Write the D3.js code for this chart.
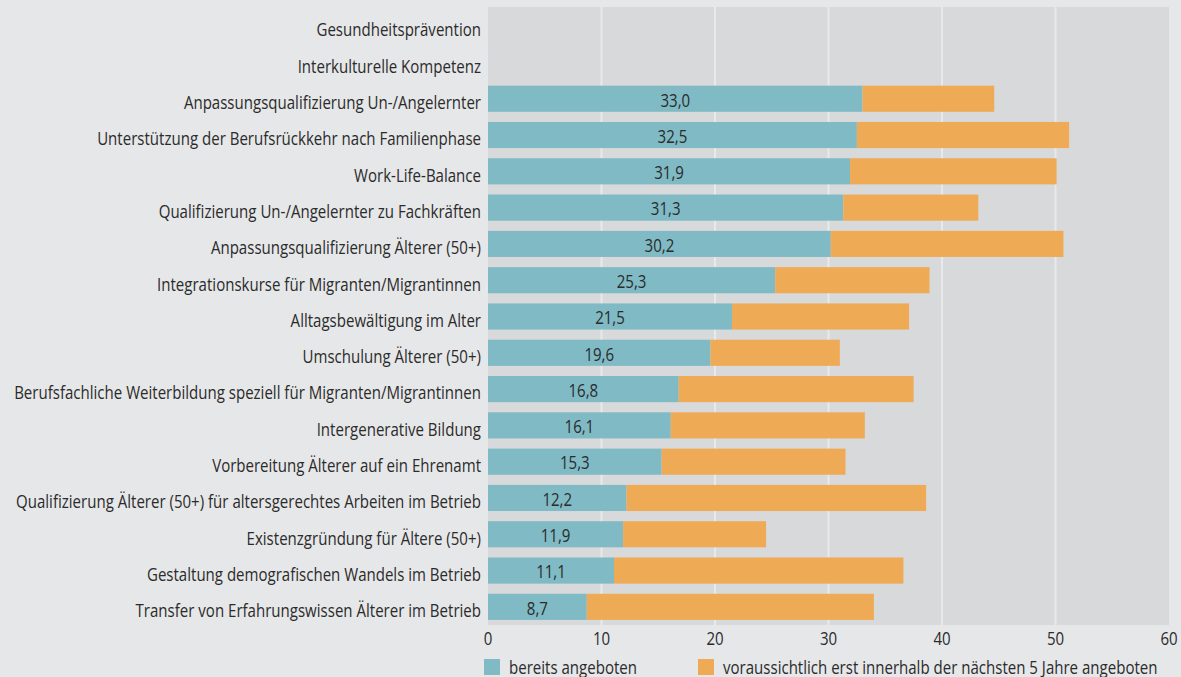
<!DOCTYPE html>
<html>
<head>
<meta charset="utf-8">
<script src="https://cdn.jsdelivr.net/npm/d3@7"></script>
<style>
  html, body { margin: 0; padding: 0; background: #e6e7e8; }
  svg { display: block; font-family: "Open Sans", sans-serif; }
</style>
</head>
<body>
<div id="app"></div>
<script>
// categories, top to bottom
const categories = [
  'Gesundheitsprävention',
  'Interkulturelle Kompetenz',
  'Anpassungsqualifizierung Un-/Angelernter',
  'Unterstützung der Berufsrückkehr nach Familienphase',
  'Work-Life-Balance',
  'Qualifizierung Un-/Angelernter zu Fachkräften',
  'Anpassungsqualifizierung Älterer (50+)',
  'Integrationskurse für Migranten/Migrantinnen',
  'Alltagsbewältigung im Alter',
  'Umschulung Älterer (50+)',
  'Berufsfachliche Weiterbildung speziell für Migranten/Migrantinnen',
  'Intergenerative Bildung',
  'Vorbereitung Älterer auf ein Ehrenamt',
  'Qualifizierung Älterer (50+) für altersgerechtes Arbeiten im Betrieb',
  'Existenzgründung für Ältere (50+)',
  'Gestaltung demografischen Wandels im Betrieb',
  'Transfer von Erfahrungswissen Älterer im Betrieb'
]

// bereits angeboten (%)
const offered = [null, null, 33.0, 32.5, 31.9, 31.3, 30.2, 25.3, 21.5, 19.6, 16.8, 16.1, 15.3, 12.2, 11.9, 11.1, 8.7]
const planned = [null, null, 11.6, 18.7, 18.2, 11.9, 20.5, 13.6, 15.6, 11.4, 20.7, 17.1, 16.2, 26.4, 12.6, 25.5, 25.3]

const xTicks = [0, 10, 20, 30, 40, 50, 60]
const legendLabels = ['bereits angeboten', 'voraussichtlich erst innerhalb der nächsten 5 Jahre angeboten']
const colors = ['#7fbac5', '#efaa55']

const W = 1181, H = 677
const FS = 17.5      // font size
const SX = 0.86      // horizontal squeeze to imitate a condensed face
const ink = '#2b2b2b'

const svg = d3.select('#app').append('svg').attr('width', W).attr('height', H)

// scales
const x = d3.scaleLinear().domain([0, 60]).range([488, 1169])
const y = d3.scaleBand().domain(categories).range([8, 625]).paddingInner(0.28).paddingOuter(0.14)

// place a squeezed text at (px, py)
function place(sel, px, py) {
  sel.attr('x', 0).attr('y', 0)
    .attr('transform', (d, i) => `translate(${px(d, i)},${py(d, i)}) scale(${SX},1)`)
    .attr('dy', '0.36em')
    .attr('font-size', FS)
    .attr('fill', ink)
}

// plot background
svg.append('rect')
  .attr('x', x(0)).attr('y', 7)
  .attr('width', x(60) - x(0)).attr('height', 618)
  .attr('fill', '#d8d9db')

// gridlines
svg.append('g').selectAll('line').data(xTicks.slice(1, -1)).join('line')
  .attr('x1', d => x(d)).attr('x2', d => x(d))
  .attr('y1', 7).attr('y2', 625)
  .attr('stroke', '#e8e9ea').attr('stroke-width', 2)

// rows
const data = categories.map((c, i) => ({ c, a: offered[i], b: planned[i] }))
const rows = svg.append('g').selectAll('g').data(data.filter(d => d.a != null)).join('g')

rows.append('rect')
  .attr('x', x(0)).attr('y', d => y(d.c))
  .attr('width', d => x(d.a) - x(0)).attr('height', y.bandwidth())
  .attr('fill', colors[0])

rows.append('rect')
  .attr('x', d => x(d.a)).attr('y', d => y(d.c))
  .attr('width', d => x(d.a + d.b) - x(d.a)).attr('height', y.bandwidth())
  .attr('fill', colors[1])

rows.append('text')
  .call(place, d => (x(0) + x(d.a)) / 2, d => y(d.c) + y.bandwidth() / 2 + 1.5)
  .attr('text-anchor', 'middle')
  .text(d => d3.format('.1f')(d.a).replace('.', ','))

// category labels
svg.append('g').selectAll('text').data(categories).join('text')
  .call(place, () => 481, d => y(d) + y.bandwidth() / 2 + 4)
  .attr('text-anchor', 'end')
  .text(d => d)

// x axis labels
svg.append('g').selectAll('text').data(xTicks).join('text')
  .call(place, d => x(d), () => 639)
  .attr('text-anchor', 'middle')
  .text(d => d)

// legend
const legendX = [484, 698]
const lg = svg.append('g').selectAll('g').data(legendLabels).join('g')
  .attr('transform', (d, i) => `translate(${legendX[i]},659)`)
lg.append('rect').attr('width', 16).attr('height', 16).attr('fill', (d, i) => colors[i])
lg.append('text')
  .call(place, () => 25, () => 8.5)
  .text(d => d)
</script>
</body>
</html>
